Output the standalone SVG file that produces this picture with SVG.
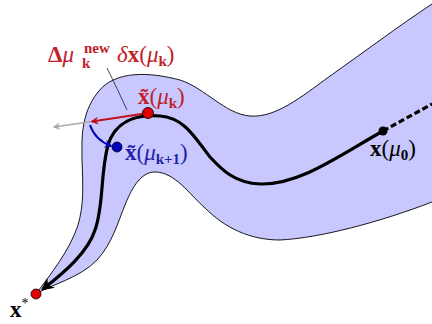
<svg xmlns="http://www.w3.org/2000/svg" width="432" height="324" viewBox="0 0 432 324">
<style>
.t{font-family:"Liberation Serif","DejaVu Serif",serif;font-size:23px}
.s{font-size:15px;font-weight:bold}
.b{font-weight:bold}
.i{font-style:italic}
.red{fill:#c0222a}
.blue{fill:#2222a8}
.blk{fill:#000}
</style>
<defs>
<marker id="ak" viewBox="0 0 10 10" refX="8" refY="5" markerWidth="4" markerHeight="4" orient="auto" markerUnits="strokeWidth"><path d="M0,0 L10,5 L0,10 L3,5 Z" fill="#000"/></marker>
<marker id="ar" viewBox="0 0 10 10" refX="8" refY="5" markerWidth="4" markerHeight="4" orient="auto" markerUnits="strokeWidth"><path d="M0,0 L10,5 L0,10 L3,5 Z" fill="#c0101a"/></marker>
<marker id="ag" viewBox="0 0 10 10" refX="8" refY="5" markerWidth="5" markerHeight="5" orient="auto" markerUnits="strokeWidth"><path d="M0,0 L10,5 L0,10 L3,5 Z" fill="#aaa"/></marker>
<marker id="ab" viewBox="0 0 10 10" refX="8" refY="5" markerWidth="4" markerHeight="4" orient="auto" markerUnits="strokeWidth"><path d="M0,0 L10,5 L0,10 L3,5 Z" fill="#0000b0"/></marker>
</defs>
<g id="region">
<path d="M432,4 C400,25 360,55 330,76 C300,98 275,118 250,116 C225,114 205,88 180,80 C150,72 115,70 98,92 C80,115 82,140 82,160 C83,185 84,205 78,225 C70,250 50,275 36,294 C50,285 80,278 97,260 C112,244 118,222 125,205 C133,185 142,172 155,172 C175,172 190,195 205,208 C225,228 250,240 280,240 C320,238 380,222 432,202 L445,202 L445,0 Z" fill="#c8c8ff" stroke="#000" stroke-width="0.9"/>
</g>
<g id="connectors">
<path id="path-dashed" d="M383,131 L432,104" fill="none" stroke="#000" stroke-width="3.2" stroke-dasharray="6,3"/>
<path id="path" d="M383,131 C340,155 300,185 260,184 C235,183 222,170 210,157 C195,138 185,118 160,116 C135,114 115,122 108,145 C100,175 104,205 95,230 C88,252 65,272 43,289" fill="none" stroke="#000" stroke-width="3.2" marker-end="url(#ak)"/>
<path id="gray-arrow" d="M95,121 L54,127" fill="none" stroke="#aaa" stroke-width="1.5" marker-end="url(#ag)"/>
<path id="red-arrow" d="M148,113 L92,121.5" fill="none" stroke="#c0101a" stroke-width="2" marker-end="url(#ar)"/>
<path id="blue-arrow" d="M90,125 Q95,140 111,146" fill="none" stroke="#0000b0" stroke-width="2" marker-end="url(#ab)"/>
<path id="leader" d="M107,68 Q118,90 127,110" fill="none" stroke="#000" stroke-width="0.7"/>
</g>
<g id="node-x0">
<circle cx="383" cy="131" r="4.5" fill="#000"/>
<text class="t blk" x="370" y="156"><tspan class="b">x</tspan>(<tspan class="i">μ</tspan><tspan class="s" dy="4">0</tspan><tspan dy="-4">)</tspan></text>
</g>
<g id="node-xk">
<circle cx="148" cy="113" r="5.5" fill="#e00000" stroke="#000" stroke-width="0.8"/>
<text class="t red" x="138" y="104"><tspan class="b">x̃</tspan>(<tspan class="i">μ</tspan><tspan class="s" dy="4">k</tspan><tspan dy="-4">)</tspan></text>
</g>
<g id="node-xk1">
<circle cx="117" cy="147" r="5" fill="#0000c0" stroke="#000" stroke-width="0.8"/>
<text class="t blue" x="125" y="160"><tspan class="b">x̃</tspan>(<tspan class="i">μ</tspan><tspan class="s" dy="4">k+1</tspan><tspan dy="-4">)</tspan></text>
</g>
<g id="node-xstar">
<circle cx="36" cy="294" r="5" fill="#e00000" stroke="#000" stroke-width="0.8"/>
<text class="t blk" x="10" y="317"><tspan class="b">x</tspan><tspan font-size="14" dy="-9">*</tspan></text>
</g>
<g id="label-delta">
<text class="t red" x="48" y="62"><tspan class="b">Δ</tspan><tspan class="i">μ</tspan></text>
<text class="t red s" x="84" y="53">new</text>
<text class="t red s" x="82" y="68">k</text>
<text class="t red" x="117" y="62"><tspan class="i">δ</tspan><tspan class="b">x</tspan>(<tspan class="i">μ</tspan><tspan class="s" dy="4">k</tspan><tspan dy="-4">)</tspan></text>
</g>
</svg>
